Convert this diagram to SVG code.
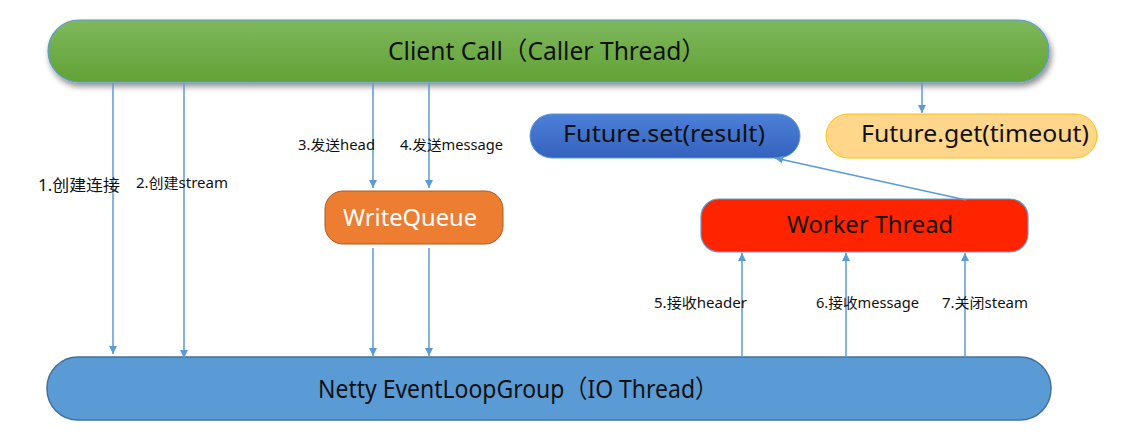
<svg xmlns="http://www.w3.org/2000/svg" width="1145" height="444" viewBox="0 0 1145 444">
  <defs>
    <linearGradient id="gGreen" x1="0" y1="0" x2="0" y2="1">
      <stop offset="0" stop-color="#7eb85c"/>
      <stop offset="1" stop-color="#62a236"/>
    </linearGradient>
    <linearGradient id="gBlue" x1="0" y1="0" x2="0" y2="1">
      <stop offset="0" stop-color="#4d80d8"/>
      <stop offset="1" stop-color="#3462be"/>
    </linearGradient>
    <filter id="shadow" x="-5%" y="-30%" width="110%" height="170%">
      <feGaussianBlur in="SourceAlpha" stdDeviation="3"/>
      <feOffset dx="2" dy="4" result="b"/>
      <feComponentTransfer><feFuncA type="linear" slope="0.45"/></feComponentTransfer>
      <feMerge><feMergeNode/><feMergeNode in="SourceGraphic"/></feMerge>
    </filter>
    <marker id="arrow" viewBox="0 0 10 10" refX="10" refY="5" markerWidth="8" markerHeight="8" markerUnits="userSpaceOnUse" orient="auto">
      <path d="M0,0 L10,5 L0,10 z" fill="#5b9bd5"/>
    </marker>
  </defs>
  <style>
    .t { font-family: "Noto Sans", "Noto Sans CJK SC", sans-serif; fill: #111; }
    .big { font-size: 25px; }
    .mid { font-size: 24px; }
    .lbl { font-family: "Noto Sans", "Noto Sans CJK SC", sans-serif; font-size: 14px; fill: #111; }
    .conn { stroke: #5b9bd5; stroke-width: 1.5; fill: none; marker-end: url(#arrow); }
  </style>

  <g id="client-call">
    <rect x="48" y="20" width="1001" height="62" rx="31" fill="url(#gGreen)" stroke="#5b9bd5" stroke-width="1.2" filter="url(#shadow)"/>
    <text class="t big" x="547" y="60" text-anchor="middle" textLength="318" lengthAdjust="spacingAndGlyphs">Client Call（Caller Thread）</text>
  </g>

  <g id="netty">
    <rect x="47" y="357" width="1004" height="63" rx="31" fill="#5b9bd5" stroke="#41719c" stroke-width="1.5"/>
    <text class="t big" x="518" y="398" text-anchor="middle" textLength="400" lengthAdjust="spacingAndGlyphs">Netty EventLoopGroup（IO Thread）</text>
  </g>

  <g id="future-set">
    <rect x="530" y="114" width="270" height="44" rx="22" fill="url(#gBlue)" stroke="#5b9bd5" stroke-width="1"/>
    <text class="t mid" x="664" y="142" text-anchor="middle" textLength="202" lengthAdjust="spacingAndGlyphs">Future.set(result)</text>
  </g>

  <g id="future-get">
    <rect x="826" y="114" width="271" height="44" rx="22" fill="#ffd68a" stroke="#ffc000" stroke-width="1"/>
    <text class="t mid" x="975" y="142" text-anchor="middle" textLength="228" lengthAdjust="spacingAndGlyphs">Future.get(timeout)</text>
  </g>

  <g id="write-queue">
    <rect x="325" y="191" width="178" height="53" rx="18" fill="#ed7d31" stroke="#ae5a21" stroke-width="1"/>
    <text class="t mid" x="410" y="226" text-anchor="middle" style="fill:#ffffff" textLength="134" lengthAdjust="spacingAndGlyphs">WriteQueue</text>
  </g>

  <g id="worker-thread">
    <rect x="701" y="199" width="327" height="53" rx="18" fill="#ff2400" stroke="#5b9bd5" stroke-width="1.2"/>
    <text class="t mid" x="870" y="233" text-anchor="middle" textLength="166" lengthAdjust="spacingAndGlyphs">Worker Thread</text>
  </g>

  <g id="connectors">
    <line class="conn" x1="113" y1="83" x2="113" y2="354"/>
    <line class="conn" x1="184" y1="83" x2="184" y2="358"/>
    <line class="conn" x1="373" y1="83" x2="373" y2="188"/>
    <line class="conn" x1="429" y1="83" x2="429" y2="188"/>
    <line class="conn" x1="373" y1="248" x2="373" y2="356"/>
    <line class="conn" x1="429" y1="248" x2="429" y2="356"/>
    <line class="conn" x1="922" y1="83" x2="922" y2="113"/>
    <line class="conn" x1="742" y1="357" x2="742" y2="253"/>
    <line class="conn" x1="846" y1="357" x2="846" y2="253"/>
    <line class="conn" x1="965" y1="357" x2="965" y2="253"/>
    <line class="conn" x1="966" y1="200" x2="775" y2="158"/>
  </g>

  <g id="labels">
    <text class="lbl" x="38" y="191" style="font-size:16px" textLength="82" lengthAdjust="spacingAndGlyphs">1.创建连接</text>
    <text class="lbl" x="136" y="188" textLength="92" lengthAdjust="spacingAndGlyphs">2.创建stream</text>
    <text class="lbl" x="298" y="150" textLength="77" lengthAdjust="spacingAndGlyphs">3.发送head</text>
    <text class="lbl" x="400" y="150" textLength="103" lengthAdjust="spacingAndGlyphs">4.发送message</text>
    <text class="lbl" x="654" y="308" textLength="93" lengthAdjust="spacingAndGlyphs">5.接收header</text>
    <text class="lbl" x="816" y="308" textLength="103" lengthAdjust="spacingAndGlyphs">6.接收message</text>
    <text class="lbl" x="942" y="308" textLength="86" lengthAdjust="spacingAndGlyphs">7.关闭steam</text>
  </g>
</svg>
